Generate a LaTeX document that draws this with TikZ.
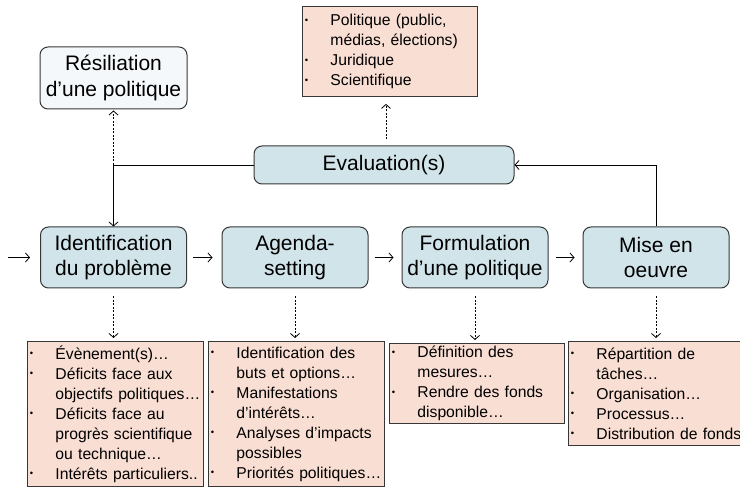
\documentclass[tikz,border=0pt]{standalone}
\usepackage{fontspec}
\setmainfont{Liberation Sans}
\usepackage{tikz}
\usetikzlibrary{arrows.meta, calc}
\usepackage{xcolor}
\definecolor{stageblue}{RGB}{209,228,234}
\definecolor{notepink}{RGB}{249,222,212}
\definecolor{palefill}{RGB}{244,248,250}
\definecolor{edgegray}{RGB}{55,55,55}

\tikzset{
  stage/.style={draw=edgegray, line width=1pt, rounded corners=8pt, fill=stageblue,
    minimum width=146pt, minimum height=61pt, align=center, inner sep=0pt,
    font=\fontsize{21}{25.5}\selectfont},
  endstage/.style={stage, fill=palefill, minimum width=147pt, minimum height=62pt},
  note/.style={draw=edgegray, line width=0.9pt, fill=notepink, anchor=north west,
    align=left, inner xsep=2.5pt, inner ysep=0pt, font=\fontsize{15.7}{20}\selectfont},
  flow/.style={line width=0.8pt, -{Straight Barb[length=4pt,width=9pt]}},
  aside/.style={flow, dash pattern=on 2pt off 1.5pt},
}
\newcommand{\bul}[1]{\mbox{\makebox[25.5pt][l]{\raisebox{2.2pt}{\fontsize{9.5}{9.5}\selectfont\textbullet}}#1}}
\newcommand{\ind}[1]{\mbox{\hspace*{25.5pt}#1}}

\begin{document}
\begin{tikzpicture}[x=1pt, y=-1pt]
  \useasboundingbox (0,0) rectangle (740,489);
  % Stages
  \node[endstage] (resil) at (113.5,78) {Résiliation\\d’une politique};
  \node[stage, minimum width=260pt, minimum height=38pt] (eval) at (384,165) {Evaluation(s)};
  \node[stage] (ident) at (113.5,257.5) {Identification\\du problème};
  \node[stage] (agenda) at (295,257.5) {Agenda-\\setting};
  \node[stage] (formul) at (475,257.5) {Formulation\\d’une politique};
  \node[stage] (mise) at (656,257.5) {Mise en\\oeuvre};
  %
  % Notes
  \node[note, text width=170pt, minimum height=90pt] (evalnote) at (302,6)
    {\bul{Politique (public,}\\\ind{médias, élections)}\\\bul{Juridique}\\\bul{Scientifique}};
  \node[note, text width=171pt, minimum height=145pt] (identnote) at (27,341)
    {\bul{Évènement(s)…}\\\bul{Déficits face aux}\\\ind{objectifs politiques…}\\
     \bul{Déficits face au}\\\ind{progrès scientifique}\\\ind{ou technique…}\\
     \bul{Intérêts particuliers..}};
  \node[note, text width=171pt, minimum height=145pt] (agendanote) at (208,341)
    {\bul{Identification des}\\\ind{buts et options…}\\\bul{Manifestations}\\
     \ind{d’intérêts…}\\\bul{Analyses d’impacts}\\\ind{possibles}\\
     \bul{Priorités politiques…}};
  \node[note, text width=170pt, minimum height=80pt] (formulnote) at (389,343)
    {\bul{Définition des}\\\ind{mesures…}\\\bul{Rendre des fonds}\\\ind{disponible…}};
  \node[note, text width=179pt, minimum height=104pt] (misenote) at (568,341)
    {\bul{Répartition de}\\\ind{tâches…}\\\bul{Organisation…}\\\bul{Processus…}\\
     \bul{Distribution de fonds}};
  %
  % Cycle
  \coordinate (start) at (8,257.5);
  \coordinate (split) at (ident.north |- eval.west);
  \draw[flow, shorten >=10pt] (start) -- (ident.west);
  \draw[flow, shorten <=6pt, shorten >=9pt] (ident.east) -- (agenda.west);
  \draw[flow, shorten <=6pt, shorten >=8pt] (agenda.east) -- (formul.west);
  \draw[flow, shorten <=7pt, shorten >=8pt] (formul.east) -- (mise.west);
  \draw[flow] (mise.north) |- (eval.east);
  \draw[flow] (eval.west) -- (split) -- (ident.north);
  \draw[aside, shorten >=1pt] (split) -- (resil.south);
  \draw[aside, shorten <=6pt, shorten >=7pt] ([xshift=2pt]eval.north) -- ([xshift=2pt]eval.north |- evalnote.south);
  \foreach \s/\n in {ident/identnote, agenda/agendanote, formul/formulnote, mise/misenote}
    \draw[aside, shorten <=8pt, shorten >=3pt] (\s.south) -- (\s.south |- \n.north);
\end{tikzpicture}
\end{document}
